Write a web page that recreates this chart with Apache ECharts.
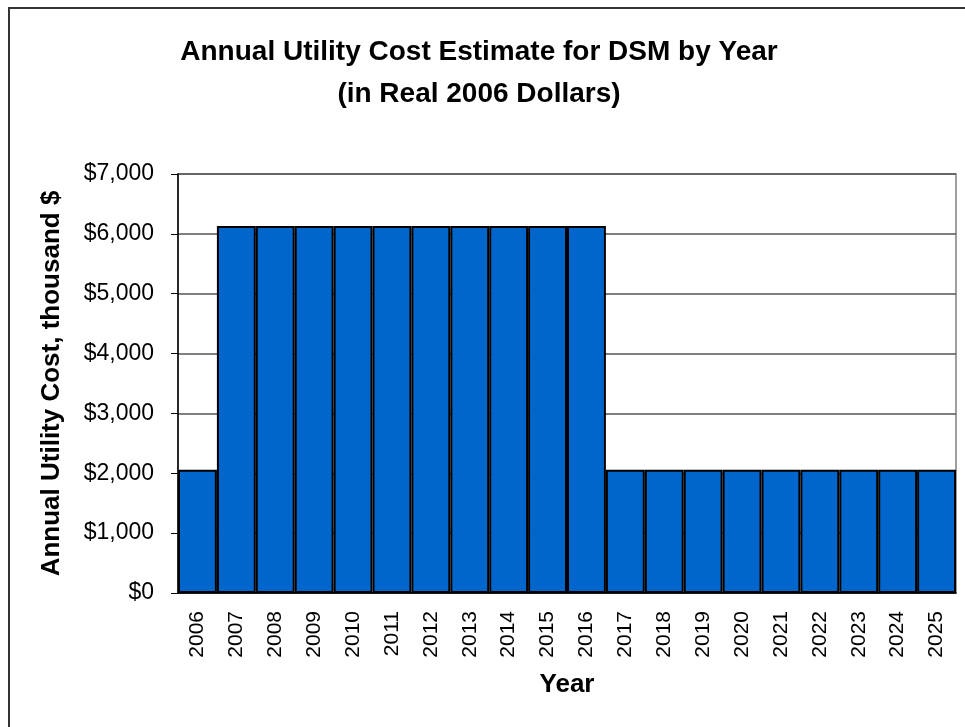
<!DOCTYPE html>
<html>
<head>
<meta charset="utf-8">
<script src="https://cdn.jsdelivr.net/npm/echarts@6/dist/echarts.min.js"></script>
<style>
  html, body { margin: 0; padding: 0; background: #fff; overflow: hidden; }
  #chart { width: 965px; height: 727px; position: relative; }
  #frame { position: absolute; left: 8px; top: 7px; width: 1000px; height: 800px;
           border: 2px solid #333; pointer-events: none; box-sizing: border-box; }
</style>
</head>
<body>
<div id="chart"></div>
<div id="frame"></div>
<script>
// years on the x axis
const years = ['2006', '2007', '2008', '2009', '2010', '2011', '2012', '2013', '2014', '2015',
  '2016', '2017', '2018', '2019', '2020', '2021', '2022', '2023', '2024', '2025'];
// annual utility cost, thousand $
const costs = [2060, 6130, 6130, 6130, 6130, 6130, 6130, 6130, 6130, 6130,
  6130, 2060, 2060, 2060, 2060, 2060, 2060, 2060, 2060, 2060];
// y axis range
const yMin = 0, yMax = 7000, yStep = 1000;

const font = "'Liberation Sans', Arial, sans-serif";
const chart = echarts.init(document.getElementById('chart'));

const option = {
  animation: false,
  backgroundColor: '#fff',
  title: {
    text: 'Annual Utility Cost Estimate for DSM by Year\n(in Real 2006 Dollars)',
    left: 474,
    top: 26,
    textAlign: 'center',
    textStyle: {
      fontFamily: font,
      fontSize: 28,
      fontWeight: 'bold',
      color: '#000',
      lineHeight: 42
    }
  },
  grid: {
    left: 178,
    right: 9,
    top: 174,
    bottom: 134,
    show: true,
    borderColor: '#808080',
    borderWidth: 1.5
  },
  xAxis: {
    type: 'category',
    data: years,
    name: 'Year',
    nameLocation: 'middle',
    nameGap: 79,
    nameTextStyle: { fontFamily: font, fontSize: 26, fontWeight: 'bold', color: '#000' },
    axisLine: { lineStyle: { color: '#000', width: 1.5 } },
    axisTick: { length: 7, lineStyle: { color: '#555', width: 1 } },
    axisLabel: { rotate: 90, margin: 18, fontFamily: font, fontSize: 21, color: '#000' }
  },
  yAxis: {
    type: 'value',
    min: yMin,
    max: yMax,
    interval: yStep,
    name: 'Annual Utility Cost, thousand $',
    nameLocation: 'middle',
    nameRotate: 90,
    nameGap: 113,
    nameTextStyle: { fontFamily: font, fontSize: 26, fontWeight: 'bold', color: '#000' },
    axisLine: { show: true, lineStyle: { color: '#000', width: 1.5 } },
    axisTick: { show: true, length: 7, lineStyle: { color: '#000', width: 1 } },
    axisLabel: {
      margin: 24,
      fontFamily: font,
      fontSize: 23,
      color: '#000',
      formatter: v => '$' + v.toLocaleString('en-US')
    },
    splitLine: { lineStyle: { color: '#555', width: 1.5 } }
  },
  series: [{
    type: 'bar',
    data: costs,
    barCategoryGap: 0,
    itemStyle: { color: '#0066CC', borderColor: '#000', borderWidth: 2 }
  }]
};

chart.setOption(option);
</script>
</body>
</html>
